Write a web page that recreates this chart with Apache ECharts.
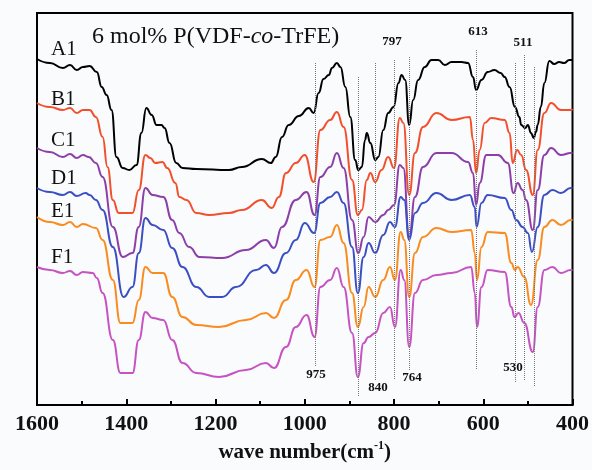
<!DOCTYPE html>
<html><head><meta charset="utf-8">
<script src="https://cdn.jsdelivr.net/npm/echarts@6/dist/echarts.min.js"></script>
<style>html,body{margin:0;padding:0;background:#fafbfd}#c{width:592px;height:470px}</style>
</head><body><div id="c"></div>
<script>
// wavenumber (cm-1), relative transmittance (arbitrary, offset-stacked)
const A1 = [[1600,346],[1571,342],[1542,337],[1526,340],[1511,335],[1497,338],[1482,339],[1466,333],[1455,318],[1444,310],[1433,295],[1422,248],[1408,237],[1393,235],[1377,240],[1366,272],[1355,297],[1343,290],[1332,280],[1321,280],[1314,277],[1303,262],[1288,242],[1274,237],[1243,236],[1170,235],[1141,238],[1096,246],[1076,242],[1065,248],[1051,268],[1036,280],[1013,289],[991,297],[980,292],[969,312],[958,326],[946,330],[939,337],[928,342],[920,338],[909,318],[898,288],[887,245],[880,235],[872,238],[865,265],[861,272],[853,262],[842,245],[835,248],[824,275],[813,292],[801,298],[790,322],[783,330],[775,325],[766,280],[757,305],[746,325],[731,338],[716,345],[701,345],[686,340],[671,343],[649,343],[634,342],[623,328],[616,315],[604,325],[590,333],[575,335],[561,332],[552,328],[541,318],[529,298],[519,288],[515,280],[506,277],[500,280],[493,272],[487,267],[482,273],[478,280],[471,298],[463,322],[452,344],[441,341],[430,343],[419,342],[407,345],[400,345]];
const B1 = [[1600,302],[1571,298],[1542,295],[1526,297],[1511,292],[1497,295],[1482,295],[1468,288],[1453,268],[1442,238],[1430,205],[1417,192],[1386,192],[1372,215],[1357,250],[1346,247],[1335,242],[1319,243],[1308,237],[1290,222],[1281,208],[1265,205],[1243,192],[1214,190],[1170,192],[1141,195],[1096,205],[1074,197],[1058,208],[1042,232],[1020,242],[1000,250],[980,223],[965,275],[943,285],[928,293],[913,278],[894,225],[881,190],[872,195],[861,225],[853,232],[842,223],[828,235],[813,248],[800,237],[787,287],[779,282],[766,210],[753,252],[735,278],[705,292],[671,285],[630,288],[623,265],[616,232],[608,255],[597,282],[582,287],[552,285],[541,272],[534,242],[524,255],[515,250],[504,235],[489,210],[478,255],[463,292],[448,302],[426,295],[404,295],[400,296]];
const C1 = [[1600,257],[1571,253],[1542,248],[1526,251],[1511,247],[1497,250],[1484,248],[1468,242],[1453,228],[1430,178],[1408,148],[1386,152],[1372,178],[1357,217],[1341,210],[1317,208],[1297,185],[1281,172],[1259,158],[1236,148],[1185,147],[1132,155],[1087,165],[1069,157],[1051,178],[1020,205],[996,213],[978,190],[965,228],[943,238],[928,252],[913,237],[894,185],[880,152],[868,168],[857,188],[842,183],[824,190],[813,195],[800,200],[787,240],[779,237],[766,168],[753,208],[735,238],[705,252],[671,252],[634,243],[623,232],[616,200],[608,222],[593,250],[567,250],[545,242],[532,212],[523,222],[512,215],[504,205],[489,175],[478,215],[463,250],[448,257],[426,250],[404,252],[400,252]];
const D1 = [[1600,217],[1571,213],[1542,210],[1526,213],[1511,209],[1491,212],[1482,210],[1468,205],[1453,195],[1430,158],[1406,108],[1386,118],[1372,152],[1357,187],[1341,180],[1317,175],[1297,157],[1274,138],[1243,118],[1214,108],[1185,108],[1154,118],[1109,135],[1087,140],[1069,132],[1042,152],[1020,165],[1000,182],[979,172],[965,202],[943,208],[928,213],[913,202],[894,158],[881,112],[868,148],[857,162],[842,152],[824,170],[809,183],[798,178],[785,208],[777,205],[766,165],[753,192],[735,202],[705,212],[671,205],[630,210],[619,198],[615,178],[604,202],[590,210],[552,207],[537,195],[526,185],[512,178],[500,172],[491,153],[478,178],[463,210],[445,215],[426,212],[404,217],[400,217]];
const E1 = [[1600,188],[1571,183],[1542,180],[1526,183],[1511,178],[1497,181],[1468,177],[1453,165],[1430,125],[1413,82],[1386,82],[1372,105],[1357,138],[1341,132],[1317,132],[1297,108],[1274,88],[1243,80],[1192,78],[1132,85],[1087,92],[1069,87],[1042,105],[1020,125],[996,135],[978,118],[965,165],[943,168],[928,180],[913,162],[894,112],[881,78],[868,98],[857,118],[842,108],[824,125],[809,138],[798,125],[785,173],[777,165],[766,108],[753,152],[735,168],[705,177],[671,173],[627,175],[619,152],[614,125],[604,158],[590,173],[552,172],[537,142],[529,135],[523,138],[508,128],[493,100],[478,145],[463,178],[445,185],[426,180],[404,185],[400,185]];
const F1 = [[1600,138],[1571,135],[1542,132],[1526,134],[1511,130],[1497,133],[1475,132],[1466,127],[1453,112],[1430,65],[1413,32],[1386,32],[1372,65],[1357,93],[1341,87],[1317,85],[1297,65],[1274,42],[1243,32],[1192,28],[1132,35],[1087,42],[1069,37],[1042,58],[1020,78],[996,90],[978,68],[965,118],[943,125],[928,137],[913,118],[894,72],[881,28],[868,62],[857,68],[842,72],[824,92],[809,98],[798,78],[785,135],[777,125],[766,58],[753,112],[735,125],[705,130],[671,132],[627,138],[619,112],[614,78],[604,118],[590,135],[552,133],[537,98],[530,88],[521,92],[508,82],[489,53],[478,98],[463,135],[445,138],[426,132],[404,135],[400,135]];

const seriesNames = ['A1','B1','C1','D1','E1','F1'];
const seriesData = [A1,B1,C1,D1,E1,F1];
const seriesColors = ['#000000','#f2502c','#8c3fa8','#3b4fc2','#f98b1f','#c653c2'];

// dotted marker lines: wavenumber, top value, bottom value
const peakWn = [976, 880, 842, 800, 766, 615, 529, 509, 486];
const peakTop = [342, 328, 342, 345, 348, 355, 342, 350, 338];
const peakBottom = [38, 8, 25, 25, 35, 35, 22, 25, 18];
const peakLabels = [['797',392,42],['613',478,32],['511',523,43],['975',316,375],['840',378,388],['764',412,378],['530',513,368]];
const curveLabelY = [50, 100, 141, 179, 212, 258];

const serif = '"Liberation Serif","DejaVu Serif",serif';
const chart = echarts.init(document.getElementById('c'));

const series = seriesNames.map((n,i)=>({
  name:n, type:'line', data:seriesData[i], showSymbol:false, smooth:0.5, smoothMonotone:'x',
  lineStyle:{color:seriesColors[i], width:2}, z:3
}));
series.unshift({
  type:'line', data:[], silent:true, z:1,
  markLine:{silent:true, symbol:'none', label:{show:false},
    lineStyle:{type:'dotted', color:'#777', width:1},
    data: peakWn.map((w,i)=>[{coord:[w,peakTop[i]]},{coord:[w,peakBottom[i]]}])}
});

const graphics = [];
seriesNames.forEach((n,i)=>graphics.push({type:'text', left:51, top:curveLabelY[i]-11,
  style:{text:n, font:'21px '+serif, fill:'#111'}}));
peakLabels.forEach(p=>graphics.push({type:'text', x:p[1], y:p[2],
  style:{text:p[0], font:'bold 13px '+serif, fill:'#111', align:'center', verticalAlign:'middle'}}));

chart.setOption({
  animation:false,
  backgroundColor:'#fafbfd',
  title:{text:'6 mol% P(VDF-{i|co}-TrFE)', left:87, top:20,
    textStyle:{fontFamily:serif, fontSize:24, fontWeight:'normal', color:'#111',
      rich:{i:{fontFamily:serif, fontSize:24, fontStyle:'italic', color:'#111'}}}},
  grid:{left:37, right:17, top:13, bottom:65, show:true, borderColor:'#000', borderWidth:2, backgroundColor:'transparent'},
  xAxis:{type:'value', min:400, max:1600, interval:200, inverse:true,
    name:'wave number(cm{sup|-1})', nameLocation:'middle', nameGap:30,
    nameTextStyle:{fontFamily:serif, fontSize:21, fontWeight:'bold', color:'#111',
      rich:{sup:{fontFamily:serif, fontSize:12, fontWeight:'bold', color:'#111', verticalAlign:'top', padding:[0,0,14,0]}}},
    axisLine:{lineStyle:{color:'#000', width:2}},
    axisTick:{inside:true, length:6, lineStyle:{color:'#000', width:2}},
    minorTick:{show:true, splitNumber:2, length:4, lineStyle:{color:'#000', width:2}},
    axisLabel:{fontFamily:serif, fontSize:22, fontWeight:'bold', color:'#111', margin:8, formatter:v=>String(v)},
    splitLine:{show:false}},
  yAxis:{type:'value', min:0, max:392, show:true, axisLine:{show:false}, axisTick:{show:false}, axisLabel:{show:false}, splitLine:{show:false}},
  series: series,
  graphic: graphics
});
</script></body></html>
